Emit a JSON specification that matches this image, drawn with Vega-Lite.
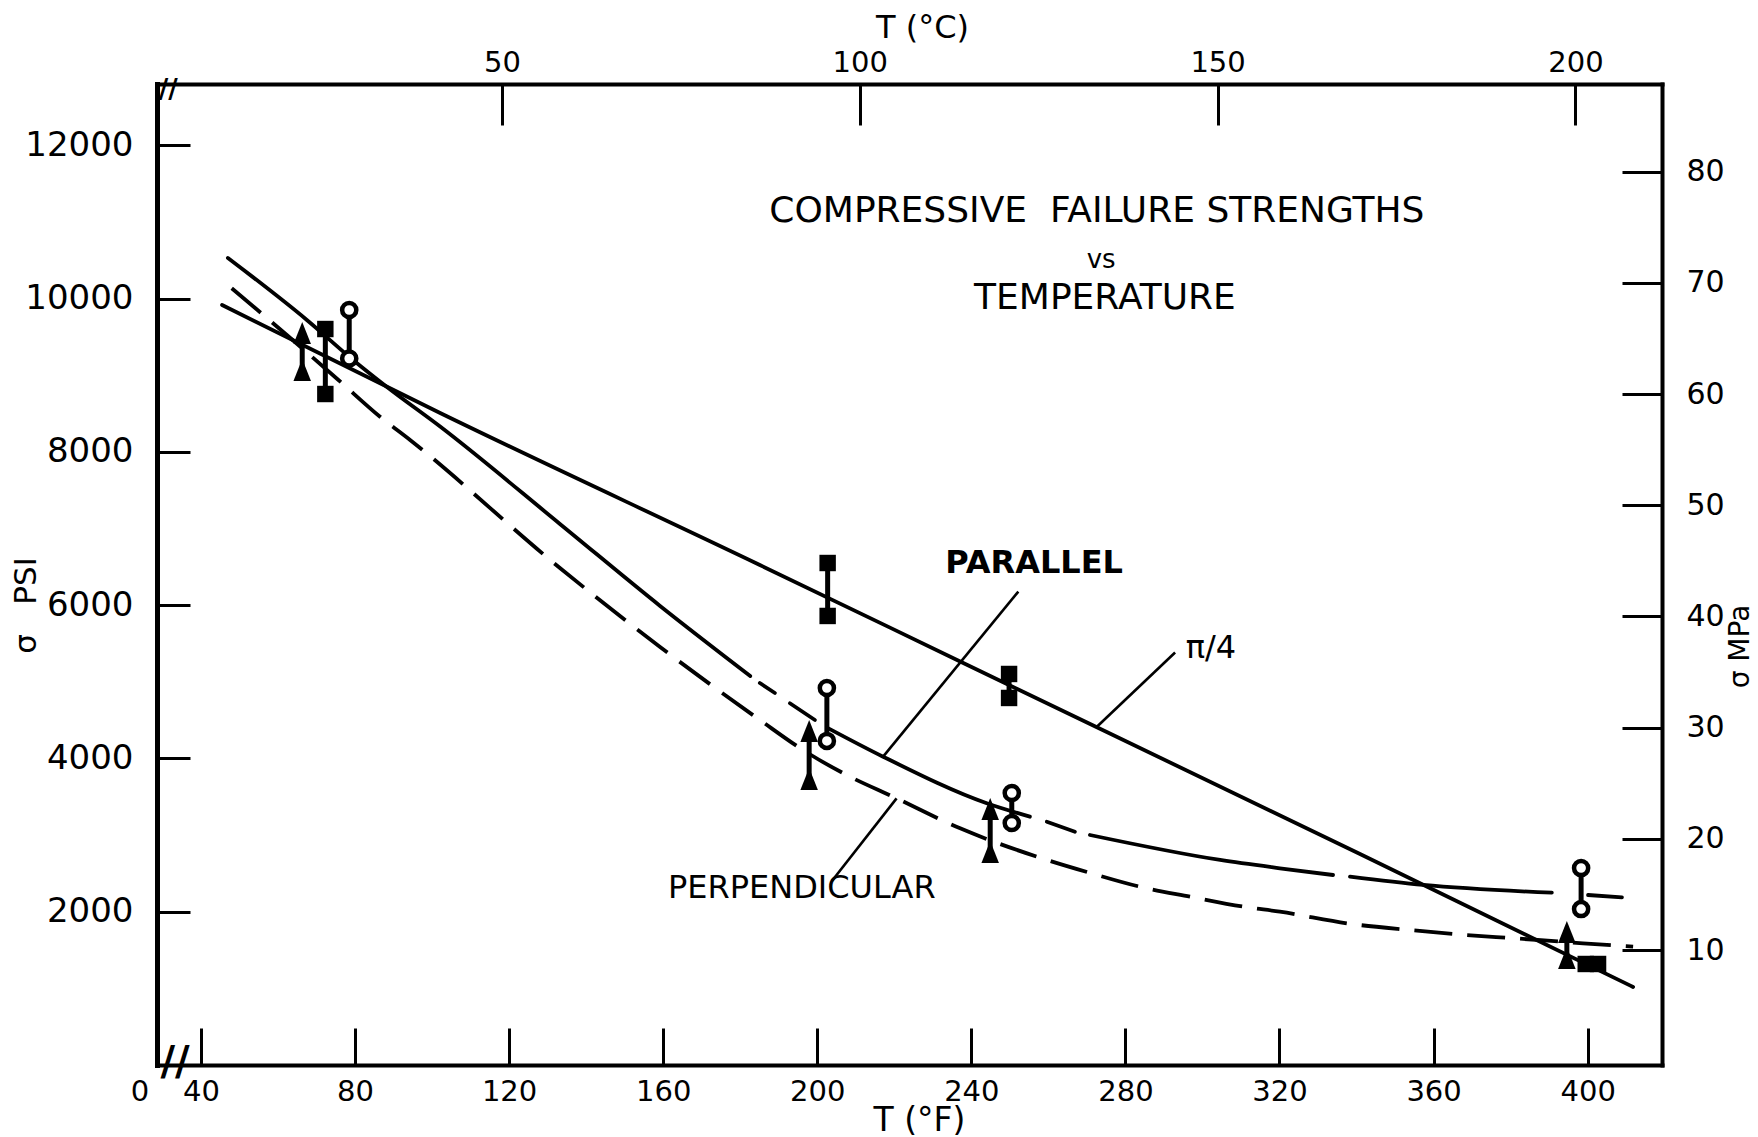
{
  "$schema": "https://vega.github.io/schema/vega-lite/v6.json",
  "width": 1505,
  "height": 981,
  "autosize": {"type": "none"},
  "padding": {"left": 157, "top": 84, "right": 96, "bottom": 72},
  "background": "white",
  "config": {
    "view": {"stroke": null},
    "axis": {"grid": false, "domainColor": "black", "tickColor": "black", "labelColor": "black", "titleColor": "black", "labelFont": "DejaVu Sans", "titleFont": "DejaVu Sans", "titleFontWeight": "normal", "labelFlush": false, "labelOverlap": false, "tickWidth": 3, "domainWidth": 4, "domainCap": "square"},
    "text": {"font": "DejaVu Sans", "color": "black"}
  },
  "datasets": {
    "curves": [
      {"piece": "π/4", "F": 45.5, "psi": 9917}, {"piece": "π/4", "F": 102.1, "psi": 8507}, {"piece": "π/4", "F": 185.1, "psi": 6524}, {"piece": "π/4", "F": 237.1, "psi": 5265}, {"piece": "π/4", "F": 340.9, "psi": 2753}, {"piece": "π/4", "F": 411.8, "psi": 1018},
      {"piece": "parallel 1", "F": 47.0, "psi": 10530}, {"piece": "parallel 1", "F": 67.5, "psi": 9721}, {"piece": "parallel 1", "F": 79.5, "psi": 9199}, {"piece": "parallel 1", "F": 88.3, "psi": 8846}, {"piece": "parallel 1", "F": 102.1, "psi": 8330}, {"piece": "parallel 1", "F": 133.2, "psi": 7060}, {"piece": "parallel 1", "F": 159.2, "psi": 5990}, {"piece": "parallel 1", "F": 182.6, "psi": 5076},
      {"piece": "parallel 2", "F": 185.1, "psi": 4984}, {"piece": "parallel 2", "F": 189.0, "psi": 4854},
      {"piece": "parallel 3", "F": 192.9, "psi": 4720}, {"piece": "parallel 3", "F": 199.4, "psi": 4502},
      {"piece": "parallel 4", "F": 202.9, "psi": 4393}, {"piece": "parallel 4", "F": 217.1, "psi": 4023}, {"piece": "parallel 4", "F": 244.0, "psi": 3415}, {"piece": "parallel 4", "F": 255.2, "psi": 3240},
      {"piece": "parallel 5", "F": 259.6, "psi": 3175}, {"piece": "parallel 5", "F": 266.9, "psi": 3044},
      {"piece": "parallel 6", "F": 270.8, "psi": 3001}, {"piece": "parallel 6", "F": 304.6, "psi": 2675}, {"piece": "parallel 6", "F": 320.1, "psi": 2567}, {"piece": "parallel 6", "F": 333.9, "psi": 2479},
      {"piece": "parallel 7", "F": 338.3, "psi": 2457}, {"piece": "parallel 7", "F": 357.3, "psi": 2349}, {"piece": "parallel 7", "F": 390.7, "psi": 2248},
      {"piece": "parallel 8", "F": 400.1, "psi": 2218}, {"piece": "parallel 8", "F": 408.9, "psi": 2188},
      {"piece": "perpendicular", "F": 48.0, "psi": 10134}, {"piece": "perpendicular", "F": 62.3, "psi": 9525}, {"piece": "perpendicular", "F": 75.7, "psi": 8938}, {"piece": "perpendicular", "F": 86.5, "psi": 8459}, {"piece": "perpendicular", "F": 94.3, "psi": 8155}, {"piece": "perpendicular", "F": 133.2, "psi": 6485}, {"piece": "perpendicular", "F": 159.2, "psi": 5454}, {"piece": "perpendicular", "F": 185.1, "psi": 4502}, {"piece": "perpendicular", "F": 196.3, "psi": 4110}, {"piece": "perpendicular", "F": 208.5, "psi": 3762}, {"piece": "perpendicular", "F": 219.7, "psi": 3501}, {"piece": "perpendicular", "F": 237.1, "psi": 3088}, {"piece": "perpendicular", "F": 258.3, "psi": 2697}, {"piece": "perpendicular", "F": 271.2, "psi": 2501}, {"piece": "perpendicular", "F": 283.8, "psi": 2326}, {"piece": "perpendicular", "F": 296.8, "psi": 2196}, {"piece": "perpendicular", "F": 310.6, "psi": 2066}, {"piece": "perpendicular", "F": 320.1, "psi": 2000}, {"piece": "perpendicular", "F": 338.7, "psi": 1840}, {"piece": "perpendicular", "F": 353.9, "psi": 1761}, {"piece": "perpendicular", "F": 368.6, "psi": 1696}, {"piece": "perpendicular", "F": 381.1, "psi": 1653}, {"piece": "perpendicular", "F": 398.8, "psi": 1588}, {"piece": "perpendicular", "F": 411.8, "psi": 1544}
    ],
    "specimens": [
      {"series": "parallel", "F": 78.5, "psi": 9851}, {"series": "parallel", "F": 78.5, "psi": 9218},
      {"series": "parallel", "F": 202.5, "psi": 4919}, {"series": "parallel", "F": 202.5, "psi": 4228},
      {"series": "parallel", "F": 250.5, "psi": 3549}, {"series": "parallel", "F": 250.5, "psi": 3158},
      {"series": "parallel", "F": 398.3, "psi": 2570}, {"series": "parallel", "F": 398.3, "psi": 2035},
      {"series": "perpendicular", "F": 66.3, "psi": 9551}, {"series": "perpendicular", "F": 66.3, "psi": 9068},
      {"series": "perpendicular", "F": 197.9, "psi": 4358}, {"series": "perpendicular", "F": 197.9, "psi": 3732},
      {"series": "perpendicular", "F": 244.9, "psi": 3340}, {"series": "perpendicular", "F": 244.9, "psi": 2779},
      {"series": "perpendicular", "F": 394.6, "psi": 1735}, {"series": "perpendicular", "F": 394.6, "psi": 1396},
      {"series": "π/4", "F": 72.3, "psi": 9603}, {"series": "π/4", "F": 72.3, "psi": 8755},
      {"series": "π/4", "F": 202.7, "psi": 6550}, {"series": "π/4", "F": 202.7, "psi": 5859},
      {"series": "π/4", "F": 249.8, "psi": 5102}, {"series": "π/4", "F": 249.8, "psi": 4789},
      {"series": "π/4", "F": 399.5, "psi": 1318}, {"series": "π/4", "F": 402.7, "psi": 1318}
    ],
    "leaders": [
      {"label": "PARALLEL", "F": 252.2, "psi": 6176}, {"label": "PARALLEL", "F": 217.1, "psi": 4023},
      {"label": "PERPENDICULAR", "F": 203.8, "psi": 2400}, {"label": "PERPENDICULAR", "F": 220.6, "psi": 3479},
      {"label": "π/4", "F": 272.6, "psi": 4414}, {"label": "π/4", "F": 292.9, "psi": 5382}
    ],
    "notes": [
      {"kind": "heading", "text": "COMPRESSIVE\u00a0 FAILURE STRENGTHS", "F": 272.6, "psi": 11143},
      {"kind": "conjunction", "text": "vs", "F": 273.7, "psi": 10504},
      {"kind": "heading", "text": "TEMPERATURE", "F": 274.7, "psi": 10008},
      {"kind": "curve bold", "text": "PARALLEL", "F": 256.3, "psi": 6550},
      {"kind": "curve", "text": "PERPENDICULAR", "F": 196.0, "psi": 2310},
      {"kind": "curve", "text": "π/4", "F": 302.2, "psi": 5441},
      {"kind": "origin", "text": "0", "F": 24.2, "psi": -352},
      {"kind": "break top", "text": "//", "F": 31.5, "psi": 12722},
      {"kind": "break bottom", "text": "//", "F": 33.3, "psi": 26}
    ]
  },
  "layer": [
    {
      "layer": [
        {
          "data": {"name": "curves"},
          "transform": [{"filter": "datum.piece !== 'perpendicular'"}],
          "mark": {"type": "line", "color": "black", "strokeWidth": 3.8, "strokeCap": "round", "interpolate": "monotone"},
          "encoding": {
            "x": {"field": "F", "type": "quantitative", "scale": {"domain": [28.6, 419.3], "nice": false, "zero": false},
              "axis": {"orient": "bottom", "values": [40, 80, 120, 160, 200, 240, 280, 320, 360, 400], "format": "d", "title": "T (°F)", "tickSize": -37, "labelFontSize": 29, "labelPadding": 63, "labelBaseline": "middle", "titleFontSize": 33, "titleX": 762, "titleY": 55, "titleBaseline": "middle", "titleAlign": "center"}},
            "y": {"field": "psi", "type": "quantitative", "scale": {"domain": [0, 12800], "nice": false, "zero": false},
              "axis": {"orient": "left", "values": [2000, 4000, 6000, 8000, 10000, 12000], "format": "d", "title": "σ\u00a0\u00a0\u00a0PSI", "tickSize": -33, "domainWidth": 5, "labelFontSize": 34, "labelPadding": 57, "labelAlign": "right", "labelBaseline": "middle", "titleFontSize": 31, "titleAngle": 270, "titleX": -131, "titleY": 521, "titleBaseline": "middle", "titleAlign": "center"}},
            "detail": {"field": "piece"}
          }
        },
        {
          "data": {"name": "curves"},
          "transform": [{"filter": "datum.piece === 'perpendicular'"}],
          "mark": {"type": "line", "color": "black", "strokeWidth": 3.8, "strokeDash": [38, 15], "strokeCap": "butt", "interpolate": "monotone"},
          "encoding": {
            "x": {"field": "F", "type": "quantitative", "scale": {"domain": [28.6, 419.3], "nice": false, "zero": false}},
            "y": {"field": "psi", "type": "quantitative", "scale": {"domain": [0, 12800], "nice": false, "zero": false}}
          }
        },
        {
          "data": {"name": "leaders"},
          "mark": {"type": "line", "color": "black", "strokeWidth": 2.6},
          "encoding": {
            "x": {"field": "F", "type": "quantitative", "scale": {"domain": [28.6, 419.3], "nice": false, "zero": false}},
            "y": {"field": "psi", "type": "quantitative", "scale": {"domain": [0, 12800], "nice": false, "zero": false}},
            "detail": {"field": "label"}
          }
        },
        {
          "data": {"name": "specimens"},
          "mark": {"type": "rule", "color": "black", "strokeWidth": 5},
          "encoding": {
            "x": {"field": "F", "type": "quantitative", "scale": {"domain": [28.6, 419.3], "nice": false, "zero": false}},
            "y": {"aggregate": "min", "field": "psi", "type": "quantitative", "scale": {"domain": [0, 12800], "nice": false, "zero": false}},
            "y2": {"aggregate": "max", "field": "psi"},
            "detail": {"field": "series"}
          }
        },
        {
          "data": {"name": "specimens"},
          "transform": [{"filter": "datum.series === 'parallel'"}],
          "mark": {"type": "point", "shape": "circle", "size": 200, "fill": "white", "stroke": "black", "strokeWidth": 4.5, "opacity": 1, "fillOpacity": 1},
          "encoding": {
            "x": {"field": "F", "type": "quantitative", "scale": {"domain": [28.6, 419.3], "nice": false, "zero": false}},
            "y": {"field": "psi", "type": "quantitative", "scale": {"domain": [0, 12800], "nice": false, "zero": false}}
          }
        },
        {
          "data": {"name": "specimens"},
          "transform": [{"filter": "datum.series === 'π/4'"}],
          "mark": {"type": "point", "shape": "square", "size": 270, "filled": true, "color": "black", "opacity": 1},
          "encoding": {
            "x": {"field": "F", "type": "quantitative", "scale": {"domain": [28.6, 419.3], "nice": false, "zero": false}},
            "y": {"field": "psi", "type": "quantitative", "scale": {"domain": [0, 12800], "nice": false, "zero": false}}
          }
        },
        {
          "data": {"name": "specimens"},
          "transform": [{"filter": "datum.series === 'perpendicular'"}],
          "mark": {"type": "point", "shape": "M0,-1L0.8,1L-0.8,1Z", "size": 480, "filled": true, "color": "black", "opacity": 1},
          "encoding": {
            "x": {"field": "F", "type": "quantitative", "scale": {"domain": [28.6, 419.3], "nice": false, "zero": false}},
            "y": {"field": "psi", "type": "quantitative", "scale": {"domain": [0, 12800], "nice": false, "zero": false}}
          }
        },
        {
          "data": {"name": "notes"},
          "transform": [{"filter": "datum.kind === 'heading'"}],
          "mark": {"type": "text", "fontSize": 36, "align": "center", "baseline": "middle"},
          "encoding": {
            "x": {"field": "F", "type": "quantitative", "scale": {"domain": [28.6, 419.3], "nice": false, "zero": false}},
            "y": {"field": "psi", "type": "quantitative", "scale": {"domain": [0, 12800], "nice": false, "zero": false}},
            "text": {"field": "text"}
          }
        },
        {
          "data": {"name": "notes"},
          "transform": [{"filter": "datum.kind === 'conjunction'"}],
          "mark": {"type": "text", "fontSize": 26, "align": "center", "baseline": "middle"},
          "encoding": {
            "x": {"field": "F", "type": "quantitative", "scale": {"domain": [28.6, 419.3], "nice": false, "zero": false}},
            "y": {"field": "psi", "type": "quantitative", "scale": {"domain": [0, 12800], "nice": false, "zero": false}},
            "text": {"field": "text"}
          }
        },
        {
          "data": {"name": "notes"},
          "transform": [{"filter": "datum.kind === 'curve'"}],
          "mark": {"type": "text", "fontSize": 32, "align": "center", "baseline": "middle"},
          "encoding": {
            "x": {"field": "F", "type": "quantitative", "scale": {"domain": [28.6, 419.3], "nice": false, "zero": false}},
            "y": {"field": "psi", "type": "quantitative", "scale": {"domain": [0, 12800], "nice": false, "zero": false}},
            "text": {"field": "text"}
          }
        },
        {
          "data": {"name": "notes"},
          "transform": [{"filter": "datum.kind === 'curve bold'"}],
          "mark": {"type": "text", "fontSize": 32, "fontWeight": "bold", "align": "center", "baseline": "middle"},
          "encoding": {
            "x": {"field": "F", "type": "quantitative", "scale": {"domain": [28.6, 419.3], "nice": false, "zero": false}},
            "y": {"field": "psi", "type": "quantitative", "scale": {"domain": [0, 12800], "nice": false, "zero": false}},
            "text": {"field": "text"}
          }
        },
        {
          "data": {"name": "notes"},
          "transform": [{"filter": "datum.kind === 'origin'"}],
          "mark": {"type": "text", "fontSize": 29, "align": "center", "baseline": "middle"},
          "encoding": {
            "x": {"field": "F", "type": "quantitative", "scale": {"domain": [28.6, 419.3], "nice": false, "zero": false}},
            "y": {"field": "psi", "type": "quantitative", "scale": {"domain": [0, 12800], "nice": false, "zero": false}},
            "text": {"field": "text"}
          }
        },
        {
          "data": {"name": "notes"},
          "transform": [{"filter": "datum.kind === 'break top'"}],
          "mark": {"type": "text", "fontSize": 26, "fontWeight": "bold", "align": "center", "baseline": "middle"},
          "encoding": {
            "x": {"field": "F", "type": "quantitative", "scale": {"domain": [28.6, 419.3], "nice": false, "zero": false}},
            "y": {"field": "psi", "type": "quantitative", "scale": {"domain": [0, 12800], "nice": false, "zero": false}},
            "text": {"field": "text"}
          }
        },
        {
          "data": {"name": "notes"},
          "transform": [{"filter": "datum.kind === 'break bottom'"}],
          "mark": {"type": "text", "fontSize": 40, "fontWeight": "bold", "align": "center", "baseline": "middle"},
          "encoding": {
            "x": {"field": "F", "type": "quantitative", "scale": {"domain": [28.6, 419.3], "nice": false, "zero": false}},
            "y": {"field": "psi", "type": "quantitative", "scale": {"domain": [0, 12800], "nice": false, "zero": false}},
            "text": {"field": "text"}
          }
        }
      ]
    },
    {
      "data": {"name": "specimens"},
      "mark": {"type": "point", "opacity": 0, "clip": true},
      "encoding": {
        "x": {"field": "F", "type": "quantitative", "scale": {"domain": [1.8, 212.1], "nice": false, "zero": false},
          "axis": {"orient": "top", "values": [50, 100, 150, 200], "format": "d", "title": "T (°C)", "tickSize": -41, "labelFontSize": 29, "labelPadding": 63, "labelBaseline": "middle", "titleFontSize": 32, "titleX": 765, "titleY": -57, "titleBaseline": "middle", "titleAlign": "center"}},
        "y": {"field": "psi", "type": "quantitative", "scale": {"domain": [-0.34, 87.88], "nice": false, "zero": false},
          "axis": {"orient": "right", "values": [10, 20, 30, 40, 50, 60, 70, 80], "format": "d", "title": "σ\u00a0MPa", "tickSize": -40, "labelFontSize": 30, "labelPadding": 64, "labelAlign": "left", "labelBaseline": "middle", "titleFontSize": 28, "titleAngle": 270, "titleX": 78, "titleY": 562, "titleBaseline": "middle", "titleAlign": "center"}}
      }
    }
  ],
  "resolve": {"scale": {"x": "independent", "y": "independent"}}
}
